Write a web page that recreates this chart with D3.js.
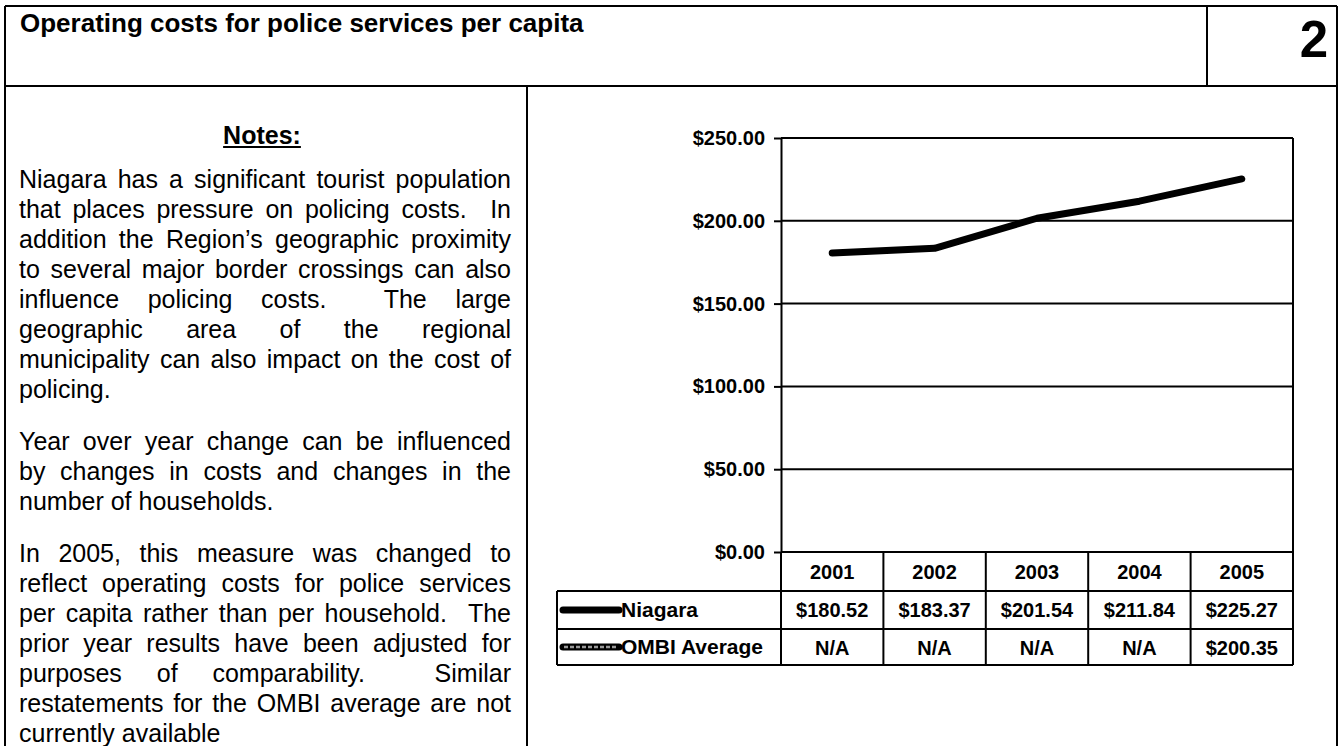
<!DOCTYPE html>
<html>
<head>
<meta charset="utf-8">
<script src="https://cdn.jsdelivr.net/npm/d3@7"></script>
<style>
  html, body { margin: 0; padding: 0; background: #fff; }
  svg { display: block; font-family: "Liberation Sans", Arial, sans-serif; }
</style>
</head>
<body>
<svg id="page" width="1342" height="746"></svg>
<script>
// ---- data ----
const years = ["2001", "2002", "2003", "2004", "2005"];
const niagara = [180.52, 183.37, 201.54, 211.84, 225.27];
const ombiAverage = [null, null, null, null, 200.35];
const seriesNames = ["Niagara", "OMBI Average"];
const yTickValues = [0, 50, 100, 150, 200, 250];

const titleText = "Operating costs for police services per capita";
const pageNumber = "2";
const notesHeading = "Notes:";
const notesParagraphs = [
  [
    "Niagara has a significant tourist population",
    "that places pressure on policing costs.  In",
    "addition the Region\u2019s geographic proximity",
    "to several major border crossings can also",
    "influence policing costs.  The large",
    "geographic area of the regional",
    "municipality can also impact on the cost of",
    "policing."
  ],
  [
    "Year over year change can be influenced",
    "by changes in costs and changes in the",
    "number of households."
  ],
  [
    "In 2005, this measure was changed to",
    "reflect operating costs for police services",
    "per capita rather than per household.  The",
    "prior year results have been adjusted for",
    "purposes of comparability.  Similar",
    "restatements for the OMBI average are not",
    "currently available"
  ]
];

// ---- page frame ----
const svg = d3.select("#page");
const ink = "#000";
const frame = svg.append("g").attr("stroke", ink).attr("stroke-width", 2).attr("fill", "none");
frame.append("line").attr("x1", 5).attr("y1", 6).attr("x2", 1337).attr("y2", 6);
frame.append("line").attr("x1", 5).attr("y1", 6).attr("x2", 5).attr("y2", 746);
frame.append("line").attr("x1", 1337).attr("y1", 6).attr("x2", 1337).attr("y2", 746);
frame.append("line").attr("x1", 5).attr("y1", 86).attr("x2", 1337).attr("y2", 86);
frame.append("line").attr("x1", 1207).attr("y1", 6).attr("x2", 1207).attr("y2", 86);
frame.append("line").attr("x1", 527).attr("y1", 86).attr("x2", 527).attr("y2", 746);

svg.append("text")
  .attr("x", 20).attr("y", 32)
  .attr("font-size", 26).attr("font-weight", "bold")
  .text(titleText);

svg.append("text")
  .attr("x", 1328).attr("y", 57)
  .attr("text-anchor", "end")
  .attr("font-size", 51).attr("font-weight", "bold")
  .text(pageNumber);

// ---- notes column ----
const notes = svg.append("g").attr("font-size", 25).attr("fill", ink);
const head = notes.append("text")
  .attr("x", 262).attr("y", 144)
  .attr("text-anchor", "middle")
  .attr("font-weight", "bold")
  .text(notesHeading);
const hb = head.node().getBBox();
notes.append("line")
  .attr("x1", hb.x).attr("x2", hb.x + hb.width)
  .attr("y1", 147).attr("y2", 147)
  .attr("stroke", ink).attr("stroke-width", 2);

const textLeft = 19, textWidth = 492, lineStep = 30, paraGap = 22;
const probe = notes.append("text").text("a a");
const probe2 = notes.append("text").text("aa");
const spaceWidth = probe.node().getComputedTextLength() - probe2.node().getComputedTextLength();
probe.remove(); probe2.remove();

// one line of justified text: extra room is shared by the word gaps
function setLine(text, baseline, justify) {
  const parts = text.split(/( +)/);
  const words = parts.filter((_, i) => i % 2 === 0);
  const gaps = parts.filter((_, i) => i % 2 === 1).map(s => s.length);
  const nodes = words.map(w => notes.append("text").attr("y", baseline).text(w));
  const widths = nodes.map(n => n.node().getComputedTextLength());
  const unit = justify && gaps.length
    ? (textWidth - d3.sum(widths)) / d3.sum(gaps)
    : spaceWidth;
  let cx = textLeft;
  nodes.forEach((n, i) => {
    n.attr("x", cx);
    cx += widths[i] + (i < gaps.length ? gaps[i] * unit : 0);
  });
}

let baseline = 188;
notesParagraphs.forEach(para => {
  para.forEach((line, i) => {
    setLine(line, baseline, i < para.length - 1);
    baseline += lineStep;
  });
  baseline += paraGap;
});

// ---- chart ----
const plotLeft = 781, plotRight = 1293, plotTop = 138, plotBottom = 552;
const x = d3.scaleBand().domain(years).range([plotLeft, plotRight]).padding(0);
const y = d3.scaleLinear().domain([0, 250]).range([plotBottom, plotTop]);
const money = d3.format("$,.2f");

const chart = svg.append("g");

// gridlines
chart.append("g")
  .selectAll("line")
  .data(yTickValues)
  .join("line")
  .attr("x1", plotLeft).attr("x2", plotRight)
  .attr("y1", d => y(d)).attr("y2", d => y(d))
  .attr("stroke", ink).attr("stroke-width", 2);

// right edge of plot
chart.append("line")
  .attr("x1", plotRight).attr("x2", plotRight)
  .attr("y1", plotTop).attr("y2", plotBottom)
  .attr("stroke", ink).attr("stroke-width", 2);

// value axis
const yAxis = chart.append("g")
  .attr("transform", `translate(${plotLeft},0)`)
  .call(d3.axisLeft(y).tickValues(yTickValues).tickFormat(money).tickSize(7).tickPadding(9).tickSizeOuter(0));
yAxis.select(".domain").attr("stroke", ink).attr("stroke-width", 2);
yAxis.selectAll(".tick line").attr("stroke", ink).attr("stroke-width", 2);
yAxis.selectAll(".tick text")
  .attr("fill", ink)
  .attr("font-family", "'Liberation Sans', Arial, sans-serif")
  .attr("font-size", 20).attr("font-weight", "bold");

// Niagara series
const niagaraPoints = years.map((yr, i) => ({ year: yr, value: niagara[i] }));
const line = d3.line()
  .defined(d => d.value != null)
  .x(d => x(d.year) + x.bandwidth() / 2)
  .y(d => y(d.value));
chart.append("path")
  .datum(niagaraPoints)
  .attr("d", line)
  .attr("fill", "none")
  .attr("stroke", ink).attr("stroke-width", 7)
  .attr("stroke-linecap", "round").attr("stroke-linejoin", "round");

// ---- data table under the plot ----
const tableLeft = 557;
const rowTops = [plotBottom, 591, 629, 665];
const table = svg.append("g").attr("stroke", ink).attr("stroke-width", 2);

// column separators (year boundaries)
const colEdges = years.map(yr => x(yr)).concat([plotRight]);
table.selectAll(".col")
  .data(colEdges)
  .join("line")
  .attr("x1", d => d).attr("x2", d => d)
  .attr("y1", plotBottom).attr("y2", rowTops[3]);
// row separators
table.selectAll(".row")
  .data(rowTops.slice(1))
  .join("line")
  .attr("x1", tableLeft).attr("x2", plotRight)
  .attr("y1", d => d).attr("y2", d => d);
table.append("line")
  .attr("x1", tableLeft).attr("x2", tableLeft)
  .attr("y1", rowTops[1]).attr("y2", rowTops[3]);

const cells = svg.append("g")
  .attr("font-size", 20).attr("font-weight", "bold")
  .attr("text-anchor", "middle").attr("fill", ink);

cells.selectAll(".yr")
  .data(years)
  .join("text")
  .attr("x", d => x(d) + x.bandwidth() / 2)
  .attr("y", 579)
  .text(d => d);

const seriesRows = [niagara, ombiAverage];
seriesRows.forEach((vals, r) => {
  const base = rowTops[r + 1] + 26;
  cells.append("g")
    .selectAll("text")
    .data(vals.map((v, i) => ({ year: years[i], value: v })))
    .join("text")
    .attr("x", d => x(d.year) + x.bandwidth() / 2)
    .attr("y", base)
    .text(d => d.value == null ? "N/A" : money(d.value));
});

// legend keys and names in the first column
const keyX1 = 563, keyX2 = 619;
seriesNames.forEach((name, r) => {
  const mid = (rowTops[r + 1] + rowTops[r + 2]) / 2;
  svg.append("line")
    .attr("x1", keyX1).attr("x2", keyX2).attr("y1", mid).attr("y2", mid)
    .attr("stroke", ink).attr("stroke-width", 7).attr("stroke-linecap", "round");
  if (r === 1) {
    svg.append("line")
      .attr("x1", keyX1 + 1).attr("x2", keyX2 - 1).attr("y1", mid).attr("y2", mid)
      .attr("stroke", "#9a9a9a").attr("stroke-width", 2.5)
      .attr("stroke-dasharray", "4 2");
  }
  svg.append("text")
    .attr("x", keyX2 + 2).attr("y", mid + 7)
    .attr("font-size", 21).attr("font-weight", "bold").attr("fill", ink)
    .text(name);
});
</script>
</body>
</html>
